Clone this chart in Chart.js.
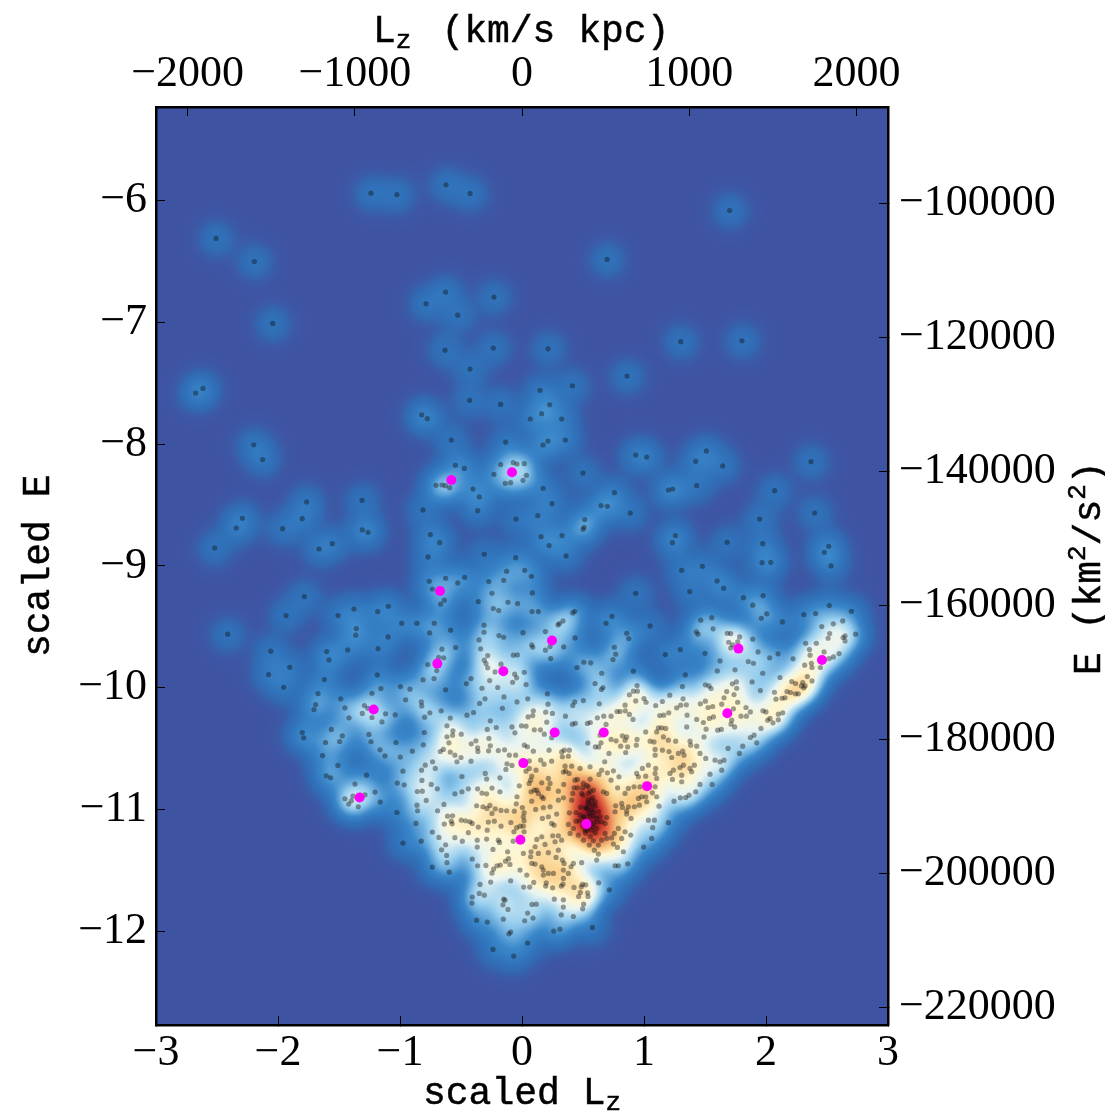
<!DOCTYPE html>
<html>
<head>
<meta charset="utf-8">
<title>scaled E vs scaled Lz</title>
<script src="https://cdn.jsdelivr.net/npm/chart.js@4/dist/chart.umd.min.js"></script>
<style>
  html, body { margin: 0; padding: 0; background: #fff; }
  canvas { display: block; }
</style>
</head>
<body>
<canvas id="chart" width="1105" height="1112"></canvas>
<script>
// stars, [scaled Lz, scaled E]
const upperStars = [
  [-1.238,-5.943],[-1.025,-5.954],[-0.623,-5.874],[-0.426,-5.945],[-2.508,-6.314],[-2.194,-6.503],[-2.044,-7.011],[-2.675,-7.582],[-2.615,-7.544],[-2.199,-8.006],
  [-0.626,-6.754],[-0.787,-6.850],[-0.527,-6.943],[-0.230,-6.795],[-0.631,-7.230],[-0.235,-7.213],[-0.426,-7.385],[-0.429,-7.642],[-0.175,-7.675],[-0.822,-7.760],[-0.776,-7.792],[-0.579,-7.967],[-0.134,-7.984],
  [1.702,-6.085],[0.697,-6.486],[1.301,-7.161],[1.803,-7.153],[0.213,-7.219],[0.861,-7.443],[0.148,-7.560],[0.413,-7.522],[0.227,-7.678],[0.161,-7.751],[0.068,-7.795],[0.325,-7.795],[0.355,-7.967],[0.213,-7.976],[0.172,-8.008]
];
const leftStars = [
  [-2.126,-8.128],[-0.546,-8.175],[-0.473,-8.200],[-0.705,-8.339],[-0.656,-8.336],[-0.628,-8.342],[-0.593,-8.358],[-0.175,-8.169],[-0.071,-8.153],[-0.041,-8.164],[0.019,-8.161],[-0.230,-8.249],[-0.137,-8.322],[-0.093,-8.317],[0.008,-8.298],
  [-0.402,-8.369],[-0.350,-8.434],[-0.363,-8.547],[-0.811,-8.541],[-0.049,-8.615],[-1.765,-8.475],[-1.311,-8.462],[-2.292,-8.609],[-2.342,-8.689],[-1.801,-8.612],[-1.962,-8.694],[-1.309,-8.705],[-1.262,-8.724],[-2.519,-8.853],[-1.555,-8.817],[-1.664,-8.861],
  [-0.751,-8.743],[-0.675,-8.809],[-0.770,-8.926],[-0.309,-8.904],[-0.052,-8.932],[-0.126,-9.044],[0.022,-9.036],[-0.760,-9.126],[-0.626,-9.101],[-0.735,-9.189],[-0.527,-9.139],[-0.470,-9.093],[-0.273,-9.128],[-0.150,-9.118],[-0.246,-9.224],
  [-0.637,-9.281],[-0.667,-9.314],[-0.358,-9.292],[-0.115,-9.298],[-0.036,-9.309],[-0.235,-9.350],[-0.191,-9.366],[-1.784,-9.251],[-1.934,-9.407],[-1.508,-9.407],[-1.377,-9.353],[-1.183,-9.374],[-1.096,-9.331],[-0.986,-9.470],[-0.861,-9.470],[-0.719,-9.470],
  [-0.757,-9.549],[-0.585,-9.527],[-0.311,-9.486],[-0.311,-9.544],[-0.189,-9.571],[-0.150,-9.585],[0.008,-9.547],[-0.352,-9.607],[-1.358,-9.514],[-1.363,-9.568],[-1.098,-9.582],[-2.413,-9.560],[-2.060,-9.699],[-1.601,-9.702],[-1.582,-9.771],[-1.429,-9.689],[-1.180,-9.678],
  [-0.656,-9.683],[-0.544,-9.669],[-0.339,-9.680],[-0.281,-9.735],[-0.642,-9.754],[-0.683,-9.749],[-0.309,-9.773],[-0.295,-9.801],[-0.281,-9.836],[-0.172,-9.806],[-0.071,-9.732],[-0.038,-9.730],[-0.773,-9.809],[-1.904,-9.831],[-2.077,-9.891],[-1.620,-9.932],[-1.186,-9.893],
  [-0.699,-9.858],[-0.221,-9.869],[-0.060,-9.888],[-0.044,-9.918],[0.019,-9.872],[-0.811,-9.934],[-0.721,-9.924],[-0.418,-9.924],[-0.456,-9.965],[-0.265,-9.940],[-0.077,-9.954],[-1.954,-9.995],[-1.156,-10.006],[-0.997,-9.989],[-0.918,-10.011],[-0.626,-10.016],[-0.328,-10.003],[-0.199,-9.997],
  [-1.672,-10.047],[-1.230,-10.044],[-1.486,-10.090],[-0.954,-10.098],[-0.825,-10.115],[-0.822,-10.148],[-0.303,-10.090],[-0.148,-10.074],[-0.041,-10.115],[-0.347,-10.128],[-1.691,-10.137],[-1.292,-10.145],[-1.451,-10.164],[-0.161,-10.167],[-1.705,-10.178]
];
const rightStars = [
  [0.036,-8.257],[0.932,-8.090],[1.022,-8.107],[1.424,-8.142],[1.511,-8.057],[1.645,-8.180],[2.369,-8.145],[0.500,-8.238],[0.173,-8.363],[1.200,-8.377],[1.235,-8.369],[1.432,-8.342],[2.071,-8.383],[0.757,-8.399],[0.246,-8.489],[0.648,-8.505],[0.700,-8.511],[0.888,-8.566],[2.399,-8.566],
  [0.129,-8.587],[1.948,-8.615],[0.514,-8.620],[0.509,-8.683],[0.500,-8.700],[0.328,-8.751],[0.156,-8.760],[1.257,-8.751],[1.233,-8.809],[1.681,-8.806],[1.973,-8.817],[2.514,-8.839],[2.478,-8.888],[0.222,-8.833],[0.361,-8.918],[1.968,-8.973],[2.039,-8.970],[2.533,-9.000],[1.479,-9.003],[1.309,-9.036],
  [0.077,-9.085],[1.599,-9.123],[1.653,-9.183],[0.085,-9.221],[0.932,-9.224],[1.375,-9.210],[1.815,-9.260],[1.976,-9.243],[1.891,-9.322],[2.519,-9.325],[0.082,-9.374],[0.134,-9.374],[0.416,-9.385],[0.432,-9.372],[0.738,-9.413],[1.555,-9.424],[1.465,-9.445],[1.962,-9.429],[2.006,-9.393],[2.309,-9.399],[2.407,-9.391],[2.700,-9.372],
  [0.336,-9.451],[0.306,-9.473],[0.295,-9.484],[0.689,-9.470],[1.050,-9.492],[2.134,-9.459],[2.629,-9.451],[2.552,-9.475],[2.457,-9.497],[1.566,-9.516],[0.192,-9.538],[1.429,-9.541],[1.443,-9.560],[1.683,-9.552],[1.711,-9.555],[1.784,-9.582],[0.858,-9.552],[0.875,-9.596],[0.435,-9.590],[2.522,-9.555],[2.648,-9.574],[2.632,-9.587],[2.735,-9.560],[2.509,-9.593],[2.648,-9.615],
  [1.891,-9.601],[1.694,-9.626],[1.727,-9.648],[1.711,-9.672],[1.768,-9.623],[2.325,-9.634],[2.413,-9.634],[0.080,-9.648],[0.088,-9.667],[0.230,-9.661],[0.192,-9.691],[0.342,-9.664],[0.757,-9.667],[0.768,-9.724],[1.298,-9.686],[2.356,-9.686],[1.935,-9.705],[1.175,-9.727],[1.500,-9.716],[2.099,-9.721],[2.476,-9.705],[2.599,-9.719],[2.552,-9.746],[2.517,-9.760],[2.361,-9.732],
  [0.235,-9.760],[2.030,-9.754],[2.222,-9.762],[0.506,-9.790],[0.563,-9.795],[0.746,-9.768],[1.623,-9.779],[1.855,-9.784],[1.897,-9.798],[2.317,-9.814],[2.372,-9.798],[2.377,-9.833],[2.446,-9.833],[0.451,-9.833],[0.913,-9.863],[1.601,-9.861],[1.746,-9.852],[0.653,-9.880],[1.973,-9.880],[1.339,-9.893],[2.339,-9.907],[2.115,-9.915],
  [0.599,-9.964],[0.033,-9.973],[0.943,-9.981],[1.503,-9.975],[1.533,-9.984],[1.550,-10.005],[1.315,-9.989],[1.757,-9.951],[1.724,-9.967],[1.886,-9.951],[2.211,-9.948],[2.243,-9.964],[2.301,-9.956],[2.377,-9.943],[2.320,-9.984],[2.290,-9.984],[2.309,-10.000],[0.664,-9.997],[0.651,-10.014],[0.913,-10.027],[0.946,-10.027],[0.880,-10.057],
  [1.760,-10.003],[1.678,-10.030],[1.656,-10.082],[1.738,-10.055],[1.954,-10.022],[2.069,-10.036],[2.172,-10.030],[2.202,-10.038],[2.265,-10.049],[2.241,-10.049],[1.211,-10.060],[0.208,-10.049],[0.047,-10.090],[1.000,-10.087],[0.932,-10.107],[1.017,-10.118],[1.151,-10.112],[1.320,-10.090],[1.503,-10.109],[2.082,-10.093],[2.131,-10.085],[2.156,-10.082],
  [0.432,-10.115],[0.416,-10.145],[0.503,-10.104],[0.634,-10.131],[0.213,-10.134],[0.845,-10.142],[1.096,-10.145],[1.268,-10.164],[1.301,-10.142],[1.347,-10.139],[1.462,-10.131],[1.525,-10.161],[1.563,-10.153],[1.637,-10.134],[1.768,-10.118],[1.836,-10.161],[1.733,-10.172],
  [1.719,-10.265],[1.713,-10.298],[1.743,-10.320],[1.872,-10.197],[1.795,-10.232],[1.839,-10.232],[1.975,-10.188],[2.000,-10.197],[2.101,-10.216],[2.137,-10.205],[2.033,-10.251],[2.014,-10.265],[2.101,-10.262],[2.057,-10.287],[1.959,-10.333],[1.902,-10.388],[1.872,-10.407],[1.924,-10.451],[1.809,-10.478],[1.782,-10.538]
];
const lowerLeftStars = [
  [-1.263,-10.167],[-1.418,-10.246],[-1.309,-10.210],[-1.230,-10.243],[-1.118,-10.213],[-1.039,-10.221],[-1.148,-10.279],[-0.798,-10.240],[-0.755,-10.205],[-0.662,-10.188],[-0.588,-10.248],[-0.451,-10.224],[-0.397,-10.202],[-0.615,-10.311],[-0.260,-10.270],[-0.566,-10.352],[-0.285,-10.341],[-0.211,-10.325],[-0.498,-10.380],[-0.569,-10.388],[-0.082,-10.320],[-0.058,-10.369],
  [-1.563,-10.341],[-1.801,-10.366],[-1.790,-10.410],[-1.473,-10.393],[-1.610,-10.448],[-1.495,-10.440],[-1.255,-10.382],[-1.238,-10.442],[-1.033,-10.448],[-0.801,-10.366],[-0.809,-10.467],[-0.615,-10.401],[-0.599,-10.451],[-0.416,-10.459],[-0.378,-10.434],[-0.271,-10.415],[-0.260,-10.475],[-0.364,-10.492],[-0.361,-10.522],[-0.274,-10.516],[-0.194,-10.514],[-0.143,-10.508],[-0.104,-10.552],[-0.052,-10.552],
  [-1.634,-10.555],[-1.164,-10.508],[-1.123,-10.557],[-0.998,-10.568],[-0.899,-10.519],[-0.670,-10.522],[-0.645,-10.505],[-0.588,-10.527],[-0.550,-10.552],[-0.500,-10.571],[-0.533,-10.606],[-0.418,-10.601],[-1.509,-10.636],[-0.793,-10.634],[-0.733,-10.606],[-0.823,-10.675],[-0.711,-10.661],[-0.976,-10.683],[-0.123,-10.623],[-0.082,-10.636],[-0.132,-10.669],
  [-1.604,-10.721],[-1.569,-10.738],[-1.274,-10.716],[-0.301,-10.702],[-0.492,-10.727],[-0.290,-10.748],[-0.181,-10.738],[-0.820,-10.759],[-1.369,-10.789],[-1.022,-10.781],[-0.965,-10.795],[-0.744,-10.792],[-0.694,-10.828],[-0.440,-10.828],[-0.364,-10.828],[-0.246,-10.822],[-0.858,-10.850],[-0.817,-10.847],[-0.550,-10.869],[-0.492,-10.852],[-0.328,-10.863],[-0.290,-10.869],[-0.181,-10.852],[-0.022,-10.803],
  [-1.205,-10.855],[-1.386,-10.888],[-1.287,-10.877],[-1.451,-10.910],[-1.399,-10.926],[-1.421,-10.953],[-1.342,-10.975],[-1.162,-10.937],[-0.785,-10.923],[-0.041,-10.893],[-0.861,-10.962],[-0.640,-10.956],[-0.372,-10.967],[-0.320,-10.975],[-0.263,-10.964],[-0.287,-10.989],[-0.219,-10.992],[-0.172,-11.005],[-0.126,-11.008],[-0.063,-11.011],[-0.047,-10.951],
  [-0.856,-11.008],[-0.692,-11.008],[-1.025,-11.022],[-0.246,-11.030],[-0.610,-11.052],[-0.569,-11.049],[-0.637,-11.117],[-0.580,-11.093],[-0.572,-11.115],[-0.498,-11.085],[-0.462,-11.090],[-0.427,-11.098],[-0.408,-11.112],[-0.869,-11.112],[-0.276,-11.101],[-0.227,-11.093],[-0.172,-11.134],[-0.358,-11.142],[-0.091,-11.104],[-0.044,-11.147],[-0.285,-11.167],
  [-0.735,-11.183],[-0.440,-11.188],[-0.066,-11.180],[-0.681,-11.227],[-0.550,-11.229],[-0.489,-11.257],[-0.367,-11.249],[-0.290,-11.240],[-0.194,-11.249],[-0.184,-11.268],[-0.072,-11.257],[-0.976,-11.273],[-0.826,-11.257],[-0.626,-11.287],[-0.367,-11.306],[-0.238,-11.325],[-0.659,-11.328],[-0.118,-11.344],[-0.618,-11.374],[-0.408,-11.404],[-0.135,-11.421],[-0.110,-11.401],
  [-0.615,-11.434],[-0.735,-11.470],[-0.364,-11.459],[-0.296,-11.456],[-0.205,-11.459],[-0.178,-11.453],[-0.099,-11.448],[-0.233,-11.486],[-0.596,-11.511],[-0.246,-11.519]
];
const bottomStars = [
  [-0.257,-11.593],[-0.344,-11.612],[-0.093,-11.582],[0.096,-11.596],[0.014,-11.634],[0.063,-11.634],[0.199,-11.599],[0.194,-11.626],[0.251,-11.640],[0.322,-11.626],[0.336,-11.610],[0.426,-11.637],[0.486,-11.632],[0.495,-11.612],[0.522,-11.615],[0.628,-11.599],[0.716,-11.656],[0.478,-11.678],[0.538,-11.681],[0.541,-11.711],[0.464,-11.711],
  [-0.350,-11.686],[-0.309,-11.700],[-0.407,-11.716],[-0.410,-11.765],[-0.150,-11.733],[-0.139,-11.741],[-0.156,-11.779],[0.265,-11.733],[0.339,-11.738],[0.082,-11.776],[0.117,-11.774],[0.505,-11.774],[-0.115,-11.817],[0.339,-11.798],[0.497,-11.812],[0.046,-11.847],[0.322,-11.861],[0.421,-11.875],[0.090,-11.888],[-0.153,-11.897],[0.022,-11.910],[-0.372,-11.905],[-0.284,-11.921],
  [0.577,-11.965],[0.311,-11.979],[0.260,-11.995],[-0.093,-12.003],[-0.107,-12.017],[0.046,-12.093],[-0.238,-12.145],[-0.068,-12.200]
];
const coreStars = [
  [0.093,-10.188],[0.088,-10.227],[0.050,-10.238],[0.194,-10.199],[0.249,-10.210],[0.356,-10.232],[0.779,-10.194],[0.804,-10.194],[0.847,-10.188],[0.880,-10.218],[0.910,-10.259],[0.730,-10.232],[0.670,-10.232],[0.618,-10.246],[0.560,-10.284],[0.536,-10.292],[0.437,-10.290],[0.413,-10.298],[0.203,-10.281],[-0.005,-10.311],[0.033,-10.314],[0.101,-10.344],[0.151,-10.344],[0.183,-10.380],[0.243,-10.410],[0.222,-10.511],
  [0.689,-10.300],[0.640,-10.388],[0.771,-10.434],[0.730,-10.423],[0.823,-10.393],[0.858,-10.402],[0.845,-10.429],[0.539,-10.453],[0.601,-10.484],[0.648,-10.451],[0.629,-10.484],[0.809,-10.478],[0.866,-10.484],[0.713,-10.538],[0.850,-10.530],[0.937,-10.470],[0.943,-10.423],[1.050,-10.437],[1.082,-10.443],[1.014,-10.361],[1.118,-10.328],[1.145,-10.328],[1.178,-10.333],[1.104,-10.361],[1.159,-10.402],[1.200,-10.429],[1.260,-10.437],[1.377,-10.437],[1.383,-10.470],[1.492,-10.402],[1.487,-10.284],[1.350,-10.320],[1.604,-10.347],[1.634,-10.341],[1.509,-10.339],[1.432,-10.259],[1.536,-10.251],[1.569,-10.238],[1.129,-10.227],[1.162,-10.224],[1.203,-10.205],[1.353,-10.224],
  [1.091,-10.552],[1.151,-10.511],[1.091,-10.505],[1.205,-10.522],[1.227,-10.571],[1.282,-10.538],[1.317,-10.519],[1.328,-10.552],[1.432,-10.478],[1.459,-10.538],[1.506,-10.579],[1.413,-10.634],[1.377,-10.661],[1.323,-10.634],[1.295,-10.653],[1.241,-10.675],[1.213,-10.702],[1.233,-10.751],[1.309,-10.716],[1.391,-10.688],[1.541,-10.708],[1.582,-10.593],[1.623,-10.606],[1.656,-10.593],[1.637,-10.675],[1.689,-10.497],
  [1.558,-10.792],[1.459,-10.792],[1.309,-10.770],[1.424,-10.852],[1.369,-10.880],[1.342,-10.899],[1.298,-10.902],[1.246,-10.929],[1.200,-11.106],[1.123,-10.970],[1.036,-11.085],[1.085,-11.085],[1.071,-11.147],[1.063,-11.235],[0.997,-11.306],[0.891,-11.207],[0.894,-11.071],[0.858,-11.035],[0.823,-10.981],[0.763,-11.016],[0.768,-10.967],[0.817,-10.948],[0.858,-11.008],[0.872,-10.975],[0.921,-10.975],[0.962,-10.962],[0.954,-10.907],[0.981,-10.893],[1.014,-10.893],[1.022,-10.934],[1.069,-10.861],[1.104,-10.893],[1.091,-10.811],[0.967,-10.811],[0.918,-10.811],[0.872,-10.825],[0.845,-10.866],[0.784,-10.820],[0.795,-10.729],[0.730,-10.757],[0.749,-10.680],[0.700,-10.697],[0.653,-10.675],[0.678,-10.606],[0.558,-10.647],[0.631,-10.710],[0.558,-10.748],[0.476,-10.661],[0.407,-10.642],[0.353,-10.642],[0.358,-10.683],[0.339,-10.691],[0.386,-10.702],
  [0.940,-10.702],[0.954,-10.729],[0.987,-10.661],[1.036,-10.634],[1.096,-10.661],[1.091,-10.702],[1.014,-10.724],[1.104,-10.743],[0.325,-10.525],[0.347,-10.511],[0.388,-10.511],[0.331,-10.565],[0.380,-10.560],[0.153,-10.593],[0.181,-10.626],[0.243,-10.601],[0.093,-10.519],[0.019,-10.470],[0.044,-10.483],[0.060,-10.598],[0.060,-10.661],[0.033,-10.683],[0.080,-10.724],[0.071,-10.757],[0.162,-10.779],[0.216,-10.743],[0.230,-10.784],[0.216,-10.825],[0.298,-10.847],[0.342,-10.792],[0.427,-10.820],[0.454,-10.820],[0.435,-10.757],[0.454,-10.751],[0.498,-10.820],[0.544,-10.811],[0.503,-10.784],[0.416,-10.866],[0.489,-10.866],[0.544,-10.866],[0.585,-10.839],[0.667,-10.852],[0.694,-10.866],
  [0.101,-10.839],[0.121,-10.839],[0.134,-10.866],[0.162,-10.893],[0.175,-10.907],[0.080,-10.929],[0.112,-10.997],[0.175,-10.983],[0.230,-10.975],[0.298,-10.921],[0.339,-10.902],[0.407,-10.921],[0.544,-10.915],[0.550,-10.956],[0.530,-10.989],[0.599,-10.934],[0.476,-11.044],[0.503,-11.057],[0.443,-11.022],[0.388,-11.025],[0.284,-11.035],[0.216,-11.057],[0.167,-11.071],[0.243,-11.112],[0.263,-11.126],[0.380,-11.120],[0.443,-11.093],[0.421,-11.153],[0.394,-11.194],[0.462,-11.208],[0.517,-11.167],[0.536,-11.167],[0.571,-11.167],[0.585,-11.112],[0.612,-11.071],[0.585,-11.016],[0.626,-11.016],[0.640,-11.057],[0.694,-11.063],[0.653,-11.098],[0.681,-11.112],[0.612,-11.153],[0.681,-11.194],[0.757,-11.194],[0.790,-11.153],[0.845,-11.180],[0.817,-11.235],[0.735,-11.230],[0.694,-11.235],[0.653,-11.249],[0.585,-11.254],[0.503,-11.249],[0.552,-11.289],[0.626,-11.289],[0.749,-11.281],[0.782,-11.309],[0.831,-11.344],[0.626,-11.363],[0.593,-11.331],[0.612,-11.412],[0.489,-11.434],[0.421,-11.440],[0.402,-11.467],[0.380,-11.522],[0.345,-11.440],[0.331,-11.412],[0.279,-11.391],[0.339,-11.494],[0.339,-11.563],[0.257,-11.522],[0.216,-11.522],[0.175,-11.494],[0.162,-11.467],[0.175,-11.535],[0.107,-11.445],[0.080,-11.440],[0.071,-11.385],[0.074,-11.344],[0.134,-11.358],[0.107,-11.303],[0.162,-11.221],[0.121,-11.243],[0.189,-11.284],[0.252,-11.213],[0.298,-11.213],[0.271,-11.262],[0.325,-11.249],[0.298,-11.331],[0.216,-11.352],[0.011,-11.358],[-0.016,-11.494],[0.039,-11.535],[0.763,-11.459],[0.790,-11.459],[0.866,-11.443],
  [0.003,-10.981],[0.017,-11.024],[0.011,-11.057],[0.017,-11.090],[-0.016,-11.134],[0.011,-11.134],[0.017,-11.180],[0.074,-10.852],[0.058,-10.784],[0.115,-10.675]
];
// overlapping stars in the darkest knot, the dots there are hard to tell apart
const knotStars = [
  [0.53,-10.80],[0.56,-10.85],[0.50,-10.88],[0.58,-10.90],[0.54,-10.94],[0.52,-10.98],[0.57,-11.00],[0.60,-10.97],[0.48,-10.98],[0.55,-11.03],[0.51,-11.06],[0.59,-11.05],[0.47,-11.09],[0.55,-11.10],[0.62,-11.10],[0.50,-11.13],[0.58,-11.14],[0.52,-11.19],[0.60,-11.19],[0.56,-11.22],
  [0.57,-10.92],[0.54,-10.99],[0.58,-10.96],[0.56,-11.05],[0.53,-11.12]
];
// highlighted stars
const pinkLz = [-0.579,-0.082,-0.672,-0.694,-0.153,-1.216,0.246,1.774,2.459,-1.331,0.268,0.670,1.683,0.011,1.025,0.528,-0.013];
const pinkE = [-8.295,-8.232,-9.205,-9.801,-9.863,-10.178,-9.612,-9.678,-9.771,-10.899,-10.366,-10.366,-10.208,-10.617,-10.806,-11.117,-11.246];

const scaledLzTicks = [-3, -2, -1, 0, 1, 2, 3];
const scaledETicks = [-12, -11, -10, -9, -8, -7, -6];
const lzTicks = [-2000, -1000, 0, 1000, 2000];
const eTicks = [-220000, -200000, -180000, -160000, -140000, -120000, -100000];

const allStars = [...upperStars, ...leftStars, ...rightStars, ...lowerLeftStars, ...bottomStars, ...coreStars, ...knotStars];

// density -> colour, same look as the imshow in the original
const densityStops = [
  [0, 62, 84, 163], [0.12, 60, 88, 166], [0.5, 50, 105, 178], [1, 48, 114, 186], [2.3, 58, 135, 202],
  [4.3, 150, 205, 238], [6.3, 232, 244, 242], [8.3, 255, 246, 208], [11.5, 250, 205, 135],
  [17, 228, 110, 70], [23, 190, 40, 40], [31, 120, 5, 40]
];

function densityColor(v) {
  const s = densityStops;
  if (v >= s[s.length - 1][0]) return s[s.length - 1].slice(1);
  for (let i = 1; i < s.length; i++) {
    if (v <= s[i][0]) {
      const t = (v - s[i - 1][0]) / (s[i][0] - s[i - 1][0]);
      return [1, 2, 3].map(k => s[i - 1][k] + t * (s[i][k] - s[i - 1][k]));
    }
  }
}

// kernel density of the stars, painted under the datasets
const densityPlugin = {
  id: 'density',
  beforeDatasetsDraw(chart) {
    const { ctx, chartArea: a, scales } = chart;
    const w = Math.round(a.right - a.left), h = Math.round(a.bottom - a.top);
    const grid = new Float32Array(w * h);
    const sigma = 0.095 * (scales.x.getPixelForValue(1) - scales.x.getPixelForValue(0));
    const reach = Math.ceil(sigma * 3.5);
    for (const [lz, e] of allStars) {
      const px = scales.x.getPixelForValue(lz) - a.left;
      const py = scales.y.getPixelForValue(e) - a.top;
      const x0 = Math.max(0, Math.floor(px - reach)), x1 = Math.min(w - 1, Math.ceil(px + reach));
      const y0 = Math.max(0, Math.floor(py - reach)), y1 = Math.min(h - 1, Math.ceil(py + reach));
      for (let y = y0; y <= y1; y++) {
        for (let x = x0; x <= x1; x++) {
          const d2 = (x - px) * (x - px) + (y - py) * (y - py);
          grid[y * w + x] += Math.exp(-d2 / (2 * sigma * sigma));
        }
      }
    }
    const off = document.createElement('canvas');
    off.width = w; off.height = h;
    const octx = off.getContext('2d');
    const img = octx.createImageData(w, h);
    for (let i = 0; i < grid.length; i++) {
      const c = densityColor(grid[i]);
      img.data[i * 4] = c[0]; img.data[i * 4 + 1] = c[1]; img.data[i * 4 + 2] = c[2]; img.data[i * 4 + 3] = 255;
    }
    octx.putImageData(img, 0, 0);
    ctx.drawImage(off, a.left, a.top);
  }
};

// axis titles need sub/superscripts, which scale titles can't do
function drawPieces(ctx, pieces, x, y, rotation) {
  ctx.save();
  ctx.translate(x, y);
  ctx.rotate(rotation);
  ctx.fillStyle = '#000';
  ctx.strokeStyle = '#000';
  ctx.lineWidth = 0.5;
  ctx.textBaseline = 'alphabetic';
  ctx.textAlign = 'left';
  let cx = 0;
  for (const [text, size, dy, gap] of pieces) {
    ctx.font = size + 'px "Liberation Mono"';
    cx += gap || 0;
    ctx.fillText(text, cx, dy);
    ctx.strokeText(text, cx, dy);
    cx += ctx.measureText(text).width;
  }
  ctx.restore();
}

const axisTitlePlugin = {
  id: 'axisTitles',
  afterDraw(chart) {
    const ctx = chart.ctx;
    drawPieces(ctx, [['L', 38, 0], ['z', 26, 6], ['(km/s kpc)', 38, 0, 30]], 373, 42, 0);
    drawPieces(ctx, [['scaled L', 38, 0], ['z', 26, 6]], 423, 1104, 0);
    drawPieces(ctx, [['scaled E', 38, 0]], 49, 657, -Math.PI / 2);
    drawPieces(ctx, [['E (km', 38, 0], ['2', 26, -15], ['/s', 38, 0], ['2', 26, -15], [')', 38, 0]], 1100, 675, -Math.PI / 2);
  }
};

const tickFont = { family: '"Liberation Serif"', size: 44 };
const minus = v => String(v).replace('-', '\u2212');

function makeAxis(position, min, max, ticks, padding, size, horizontal) {
  return {
    type: 'linear',
    position,
    min,
    max,
    grid: { drawOnChartArea: false, drawTicks: true, tickLength: -9, tickWidth: 1, tickColor: '#000', z: 1 },
    border: { display: true, color: '#000', width: 2.5, z: 1 },
    ticks: { color: '#000', font: tickFont, padding, autoSkip: false, maxRotation: 0, callback: minus },
    afterBuildTicks(scale) { scale.ticks = ticks.map(value => ({ value })); },
    afterFit(scale) {
      if (horizontal) scale.height = size; else scale.width = size;
    }
  };
}

new Chart(document.getElementById('chart'), {
  type: 'scatter',
  data: {
    datasets: [
      {
        label: 'highlighted',
        data: pinkLz.map((x, i) => ({ x, y: pinkE[i] })),
        backgroundColor: '#ff00ff',
        borderWidth: 0,
        pointRadius: 5,
        order: 0
      },
      {
        label: 'stars',
        data: allStars.map(([x, y]) => ({ x, y })),
        backgroundColor: 'rgba(15,15,15,0.4)',
        borderWidth: 0,
        pointRadius: 2.6,
        order: 1
      }
    ]
  },
  plugins: [densityPlugin, axisTitlePlugin],
  options: {
    responsive: false,
    animation: false,
    layout: { padding: 0 },
    plugins: { legend: { display: false }, tooltip: { enabled: false }, title: { display: false } },
    scales: {
      x: makeAxis('bottom', -3, 3, scaledLzTicks, 11, 87, true),
      xTop: makeAxis('top', -2189, 2189, lzTicks, 15, 107, true),
      y: makeAxis('left', -12.765, -5.236, scaledETicks, 18, 156, false),
      yRight: makeAxis('right', -222552, -85638, eTicks, 20, 217, false)
    }
  }
});
</script>
</body>
</html>
